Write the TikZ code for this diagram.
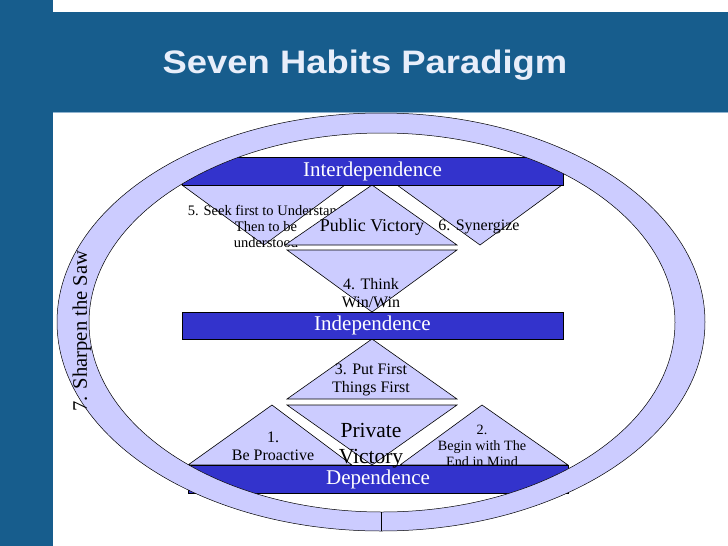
\documentclass[tikz,border=0pt]{standalone}
\usepackage{fontspec}
\setmainfont{Liberation Serif}
\newfontfamily\titlefont{Liberation Sans}
\definecolor{hdr}{HTML}{175D8D}
\definecolor{hdrline}{HTML}{8FB3CF}
\definecolor{titlecol}{HTML}{E8EEFA}
\definecolor{barblue}{HTML}{3333CC}
\definecolor{lav}{HTML}{CCCCFF}
\tikzset{
  tri/.style={fill=lav, draw=black, line width=0.6pt, line join=miter},
  bar/.style={fill=barblue, draw=black, line width=0.6pt, inner sep=0pt, text=white,
              font=\fontsize{21}{25}\selectfont},
  lbl/.style={inner sep=0pt, outer sep=0pt, align=center, text=black},
  ring/.style={fill=lav, even odd rule},
  ringline/.style={draw=black, line width=0.5pt},
}
\begin{document}
\begin{tikzpicture}[x=1pt,y=-1pt]
\useasboundingbox (0,0) rectangle (728,546);
\fill[white] (0,0) rectangle (728,546);
% header and side strip
\fill[hdr] (0,12) rectangle (728,112);
\fill[hdr] (0,0) rectangle (53,546);
\draw[hdrline, line width=0.8pt] (53,112.5) -- (728,112.5);
\node[inner sep=0pt, text=titlecol, font=\titlefont\bfseries\fontsize{32.5}{38}\selectfont]
  (title) at (365,65) {\scalebox{1.12}[1]{Seven Habits Paradigm}};

% upper triangles
\draw[tri] (182,185) coordinate (t5a) -- (345,185) -- (264,245) -- cycle;
\node[lbl, font=\fontsize{14.5}{16}\selectfont] (h5) at (266,226)
  {5. Seek first to Understand\\Then to be\\understood};
\draw[tri] (372,185) coordinate (pva) -- (457,245) -- (285,245) -- cycle;
\draw[tri] (397,185) coordinate (t6a) -- (562,185) -- (480,245) -- cycle;
\draw[tri] (287,250) coordinate (t4a) -- (457,250) -- (372,312) -- cycle;

\node[lbl, font=\fontsize{18}{20}\selectfont] (pv) at (372,227) {Public Victory};
\node[lbl, font=\fontsize{16}{18}\selectfont] (h6) at (479,227) {6. Synergize};
\node[lbl, font=\fontsize{16}{18}\selectfont] (h4) at (371,293) {4. Think\\Win/Win};

% lower triangles
\draw[tri] (372,339) coordinate (t3a) -- (457,399) -- (287,399) -- cycle;
\draw[tri] (287,405) coordinate (pra) -- (457,405) -- (372,465) -- cycle;
\draw[tri] (272,405) coordinate (t1a) -- (352,465) -- (188,465) -- cycle;
\draw[tri] (482,405) coordinate (t2a) -- (568,465) -- (400,465) -- cycle;

\node[lbl, font=\fontsize{16}{18}\selectfont] (h3) at (371,380) {3. Put First\\Things First};
\node[lbl, font=\fontsize{16}{18}\selectfont] (h1) at (273,446) {1.\\Be Proactive};
\node[lbl, font=\fontsize{14.2}{16}\selectfont] (h2) at (482,446) {2.\\Begin with The\\End in Mind};

% bars
\node[bar, minimum width=381, minimum height=28] (inter) at (372.5,171) {Interdependence};
\node[bar, minimum width=381, minimum height=27] (indep) at (372.5,325.5) {Independence};
\node[bar, minimum width=380, minimum height=28] (dep) at (378,479) {Dependence};

\node[lbl, font=\fontsize{21.5}{26}\selectfont] (prv) at (371,446) {Private\\Victory};

% ring
\fill[ring] (381,322) ellipse [x radius=324, y radius=209]
            (382,322.5) ellipse [x radius=293, y radius=189.5];
\draw[ringline] (381,322) ellipse [x radius=324, y radius=209];
\draw[ringline] (382,322.5) ellipse [x radius=293, y radius=189.5];
\coordinate (seamtop) at (381,512);
\coordinate (seambot) at (381,531);
\draw[ringline] (seamtop) -- (seambot);

\node[lbl, rotate=90, font=\fontsize{20.6}{24}\selectfont] (saw) at (82,331) {7. Sharpen the Saw};
\end{tikzpicture}
\end{document}
